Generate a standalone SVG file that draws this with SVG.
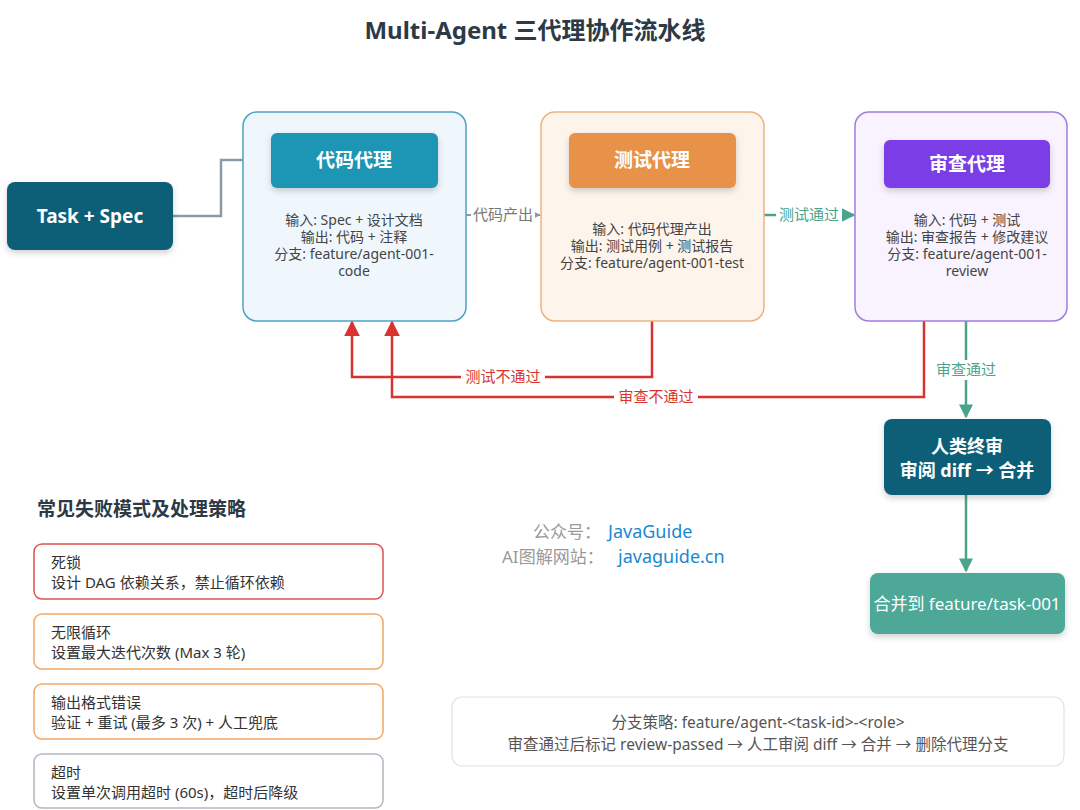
<svg xmlns="http://www.w3.org/2000/svg" width="1080" height="810" viewBox="0 0 1080 810">
<defs>
<style>
text{font-family:"Noto Sans","Noto Sans CJK SC",sans-serif;}
.title{font-size:24px;font-weight:700;fill:#2d3a45;}
.hdr{font-size:19px;font-weight:700;fill:#fff;}
.body{font-size:14px;fill:#444;}
.lbl{font-size:15px;}
.card{fill:#fff;stroke-width:1.5;}
.ct{font-size:15px;fill:#333;}
.wmc{font-size:17px;fill:#999;}
.wml{font-size:18px;fill:#1a88d0;}
</style>
<filter id="sh" x="-10%" y="-20%" width="120%" height="150%">
<feDropShadow dx="0" dy="3" stdDeviation="3" flood-color="#000" flood-opacity="0.18"/>
</filter>
<marker id="arR" viewBox="0 0 10 10" refX="9" refY="5" markerWidth="16" markerHeight="16" orient="auto" markerUnits="userSpaceOnUse"><path d="M0,0L10,5L0,10z" fill="#d8332e"/></marker>
<marker id="arG" viewBox="0 0 10 10" refX="9" refY="5" markerWidth="14" markerHeight="14" orient="auto" markerUnits="userSpaceOnUse"><path d="M0,0L10,5L0,10z" fill="#4ca38c"/></marker>
<marker id="arGr" viewBox="0 0 10 10" refX="9" refY="5" markerWidth="6" markerHeight="6" orient="auto" markerUnits="userSpaceOnUse"><path d="M0,0L10,5L0,10z" fill="#8a9aa8"/></marker>
</defs>
<rect width="1080" height="810" fill="#fff"/>
<text class="title" x="535" y="39" text-anchor="middle">Multi-Agent 三代理协作流水线</text>

<g id="connectors">
<path d="M173,216 H221 V160 H243" fill="none" stroke="#8a9aa8" stroke-width="2.5"/>
<path d="M466,215 H540" fill="none" stroke="#8a9aa8" stroke-width="2" marker-end="url(#arGr)"/>
<rect x="471" y="205" width="64" height="20" fill="#fff"/>
<text class="lbl" x="503" y="220" text-anchor="middle" fill="#777">代码产出</text>
<path d="M764,215 H854" fill="none" stroke="#4ca38c" stroke-width="2.5" marker-end="url(#arG)"/>
<rect x="776" y="205" width="66" height="20" fill="#fff"/>
<text class="lbl" x="809" y="220" text-anchor="middle" fill="#4ca38c">测试通过</text>
<path d="M652,321 V377 H352 V322" fill="none" stroke="#d8332e" stroke-width="2.5" marker-end="url(#arR)"/>
<rect x="461" y="367" width="84" height="20" fill="#fff"/>
<text class="lbl" x="503" y="382" text-anchor="middle" fill="#d8332e">测试不通过</text>
<path d="M924,321 V397 H392 V322" fill="none" stroke="#d8332e" stroke-width="2.5" marker-end="url(#arR)"/>
<rect x="614" y="387" width="84" height="20" fill="#fff"/>
<text class="lbl" x="656" y="402" text-anchor="middle" fill="#d8332e">审查不通过</text>
<path d="M966,321 V417" fill="none" stroke="#4ca38c" stroke-width="2.5" marker-end="url(#arG)"/>
<rect x="933" y="360" width="66" height="20" fill="#fff"/>
<text class="lbl" x="966" y="375" text-anchor="middle" fill="#4ca38c">审查通过</text>
<path d="M966,495 V571" fill="none" stroke="#4ca38c" stroke-width="2.5" marker-end="url(#arG)"/>
</g>

<g id="task">
<rect x="7" y="182" width="166" height="68" rx="8" fill="#0f5e78" filter="url(#sh)"/>
<text x="90" y="223" text-anchor="middle" font-size="19" font-weight="700" fill="#fff">Task + Spec</text>
</g>

<g id="code-agent">
<rect x="243" y="112" width="223" height="209" rx="14" fill="#eff7fd" stroke="#4ba3c3" stroke-width="1.5"/>
<rect x="271" y="133" width="167" height="55" rx="6" fill="#1a96b4" filter="url(#sh)"/>
<text class="hdr" x="354" y="167" text-anchor="middle">代码代理</text>
<text class="body" text-anchor="middle"><tspan x="354" y="225">输入: Spec + 设计文档</tspan><tspan x="354" y="242">输出: 代码 + 注释</tspan><tspan x="354" y="259">分支: feature/agent-001-</tspan><tspan x="354" y="276">code</tspan></text>
</g>

<g id="test-agent">
<rect x="541" y="112" width="223" height="209" rx="14" fill="#fdf5ec" stroke="#eeb27c" stroke-width="1.5"/>
<rect x="569" y="133" width="167" height="55" rx="6" fill="#e8914a" filter="url(#sh)"/>
<text class="hdr" x="652" y="167" text-anchor="middle">测试代理</text>
<text class="body" text-anchor="middle"><tspan x="652" y="234">输入: 代码代理产出</tspan><tspan x="652" y="251">输出: 测试用例 + 测试报告</tspan><tspan x="652" y="268">分支: feature/agent-001-test</tspan></text>
</g>

<g id="review-agent">
<rect x="855" y="112" width="212" height="209" rx="14" fill="#f8f3fe" stroke="#a07de0" stroke-width="1.5"/>
<rect x="884" y="140" width="166" height="48" rx="6" fill="#7a3ce6" filter="url(#sh)"/>
<text class="hdr" x="967" y="171" text-anchor="middle">审查代理</text>
<text class="body" text-anchor="middle"><tspan x="967" y="225">输入: 代码 + 测试</tspan><tspan x="967" y="242">输出: 审查报告 + 修改建议</tspan><tspan x="967" y="259">分支: feature/agent-001-</tspan><tspan x="967" y="276">review</tspan></text>
</g>

<g id="human-review">
<rect x="884" y="419" width="167" height="76" rx="8" fill="#0f5e78" filter="url(#sh)"/>
<text text-anchor="middle" font-size="18" font-weight="700" fill="#fff"><tspan x="967" y="453">人类终审</tspan><tspan x="967" y="477">审阅 diff → 合并</tspan></text>
</g>

<g id="merge">
<rect x="870" y="573" width="195" height="61" rx="8" fill="#4ea897" filter="url(#sh)"/>
<text x="967" y="610" text-anchor="middle" font-size="17" fill="#fff">合并到 feature/task-001</text>
</g>

<g id="failure-modes">
<text x="37" y="516" font-size="19" font-weight="700" fill="#2d3a45">常见失败模式及处理策略</text>
<rect class="card" x="34" y="544" width="349" height="55" rx="8" stroke="#d9534f"/>
<text class="ct"><tspan x="51" y="568">死锁</tspan><tspan x="51" y="588">设计 DAG 依赖关系，禁止循环依赖</tspan></text>
<rect class="card" x="34" y="614" width="349" height="55" rx="8" stroke="#f0a868"/>
<text class="ct"><tspan x="51" y="638">无限循环</tspan><tspan x="51" y="658">设置最大迭代次数 (Max 3 轮)</tspan></text>
<rect class="card" x="34" y="684" width="349" height="55" rx="8" stroke="#f0a868"/>
<text class="ct"><tspan x="51" y="708">输出格式错误</tspan><tspan x="51" y="728">验证 + 重试 (最多 3 次) + 人工兜底</tspan></text>
<rect class="card" x="34" y="754" width="349" height="54" rx="8" stroke="#b0b8c0"/>
<text class="ct"><tspan x="51" y="778">超时</tspan><tspan x="51" y="798">设置单次调用超时 (60s)，超时后降级</tspan></text>
</g>

<g id="watermark">
<text y="538"><tspan class="wmc" x="533">公众号：</tspan><tspan class="wml" x="608">JavaGuide</tspan></text>
<text y="563"><tspan class="wmc" x="502">AI图解网站：</tspan><tspan class="wml" x="618">javaguide.cn</tspan></text>
</g>

<g id="branch-note">
<rect x="452" y="697" width="612" height="69" rx="10" fill="#fff" stroke="#e2e2e2" stroke-width="1.2"/>
<text text-anchor="middle" font-size="15.5" fill="#555"><tspan x="758" y="728">分支策略: feature/agent-&lt;task-id&gt;-&lt;role&gt;</tspan><tspan x="758" y="750">审查通过后标记 review-passed → 人工审阅 diff → 合并 → 删除代理分支</tspan></text>
</g>
</svg>
